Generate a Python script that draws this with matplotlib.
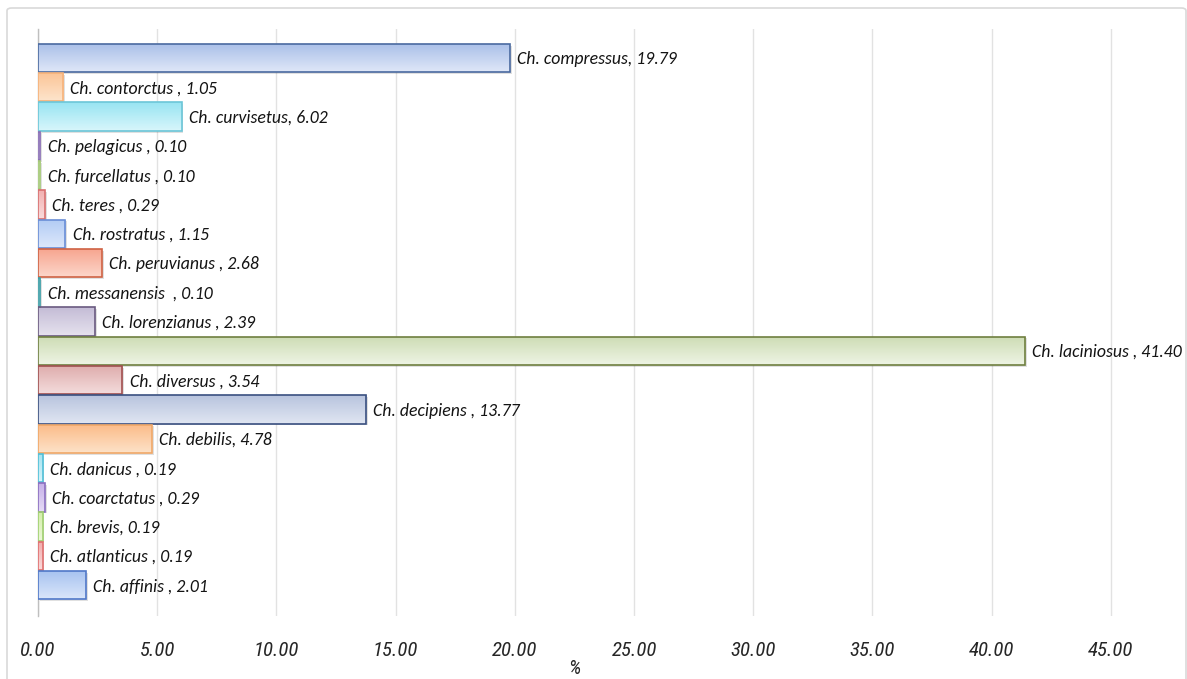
import matplotlib
matplotlib.use("Agg")
import matplotlib.pyplot as plt
import numpy as np
from matplotlib.colors import LinearSegmentedColormap
from matplotlib.patches import FancyBboxPatch

# Species (top to bottom) and their share in %
species = [
    "Ch. compressus", "Ch. contorctus ", "Ch. curvisetus", "Ch. pelagicus ",
    "Ch. furcellatus ", "Ch. teres ", "Ch. rostratus ", "Ch. peruvianus ",
    "Ch. messanensis  ", "Ch. lorenzianus ", "Ch. laciniosus ", "Ch. diversus ",
    "Ch. decipiens ", "Ch. debilis", "Ch. danicus ", "Ch. coarctatus ",
    "Ch. brevis", "Ch. atlanticus ", "Ch. affinis ",
]
percent = [19.79, 1.05, 6.02, 0.10, 0.10, 0.29, 1.15, 2.68, 0.10, 2.39,
           41.40, 3.54, 13.77, 4.78, 0.19, 0.29, 0.19, 0.19, 2.01]

# Gradient fill (top, bottom) and outline colour for each bar
top_colors = ["#a9bfe8", "#fbc495", "#98e4f2", "#c4b2e2", "#d2eab0", "#f2b0b0",
              "#b2cbf4", "#f7a48e", "#a2d8de", "#c4bcd6", "#cddcb4", "#deacac",
              "#b8c4de", "#fbbb88", "#a4e2f0", "#c6b0e8", "#d4eeaa", "#f2acac",
              "#a6c2f0"]
bottom_colors = ["#dfe7f8", "#fde4cc", "#d8f6fb", "#e8e0f4", "#eef8e0", "#fadcdc",
                 "#dde8fb", "#fcd6ca", "#d8f0f2", "#e6e2ee", "#eef4e4", "#f4dcdc",
                 "#e0e6f2", "#fde2c8", "#d8f4fa", "#e6dcf6", "#ecf8d8", "#fadada",
                 "#dae6fa"]
edge_colors = ["#4a6aa0", "#f5b27a", "#6cc6d8", "#8a70b4", "#a4c878", "#d87070",
               "#6a8ed6", "#cf6244", "#3f9ea6", "#6a5a80", "#6f7f40", "#a05050",
               "#3a5080", "#f0a868", "#50c0d8", "#8a6ec0", "#a0d070", "#e07070",
               "#5078c8"]

x_ticks = [0, 5, 10, 15, 20, 25, 30, 35, 40, 45]

label_font = ["Carlito", "Lato", "DejaVu Sans"]
tick_font = ["Roboto Condensed", "IBM Plex Sans Condensed", "Carlito", "DejaVu Sans"]

fig = plt.figure(figsize=(11.87, 6.79), dpi=100)
fig.patch.set_facecolor("white")

# light chart frame
frame = FancyBboxPatch((7 / 1187, -0.02), 1179 / 1187, 1 - 8 / 679 + 0.02,
                       boxstyle="round,pad=0,rounding_size=0.004",
                       transform=fig.transFigure, facecolor="none",
                       edgecolor="#d9d9d9", linewidth=1.2, zorder=0)
fig.patches.append(frame)

ax = fig.add_axes([38 / 1187, 1 - 616 / 679, (1180 - 38) / 1187, (616 - 29) / 679])
ax.set_facecolor("none")

y = np.arange(len(species))
bar_h = 0.97
bars = ax.barh(y, percent, height=bar_h, color="none", zorder=3)

ax.set_xlim(0, 47.9)
ax.set_ylim(19.05, -0.99)

for i, bar in enumerate(bars):
    cmap = LinearSegmentedColormap.from_list(f"g{i}", [top_colors[i], bottom_colors[i]])
    grad = np.linspace(0, 1, 64).reshape(-1, 1)
    x0, yb = bar.get_x(), bar.get_y()
    w, h = bar.get_width(), bar.get_height()
    # subtle shadow
    ax.barh(y[i] + 0.06, percent[i], height=bar_h, left=0.08,
            color="#000000", alpha=0.12, linewidth=0, zorder=2)
    im = ax.imshow(grad, cmap=cmap, aspect="auto", origin="upper",
                   extent=(x0, x0 + w, yb + h, yb), zorder=3,
                   interpolation="bilinear")
    im.set_clip_path(bar)
    ax.barh(y[i], percent[i], height=bar_h, color="none",
            edgecolor=edge_colors[i], linewidth=1.2, zorder=4)
    ax.text(percent[i] + 0.3, y[i] + 0.04, f"{species[i]}, {percent[i]:.2f}",
            va="center", ha="left", fontsize=12.8, style="italic",
            family=label_font, color="#141414", zorder=5)

ax.set_xticks(x_ticks)
ax.set_xticklabels([f"{t:.2f}" for t in x_ticks], fontsize=15,
                   style="italic", family=tick_font, color="#262626")
ax.set_yticks([])
ax.tick_params(axis="x", length=0, pad=18)
ax.grid(axis="x", color="#e2e2e2", linewidth=1, zorder=0)
ax.set_axisbelow(True)
for s in ["top", "right", "bottom"]:
    ax.spines[s].set_visible(False)
ax.spines["left"].set_color("#bfbfbf")
ax.spines["left"].set_linewidth(1)

ax.text(22.5, -0.09, "%", transform=ax.get_xaxis_transform(), ha="center",
        va="center", fontsize=14.5, style="italic",
        family=tick_font, color="#262626")

fig.savefig("out.png", dpi=100, facecolor="white")
